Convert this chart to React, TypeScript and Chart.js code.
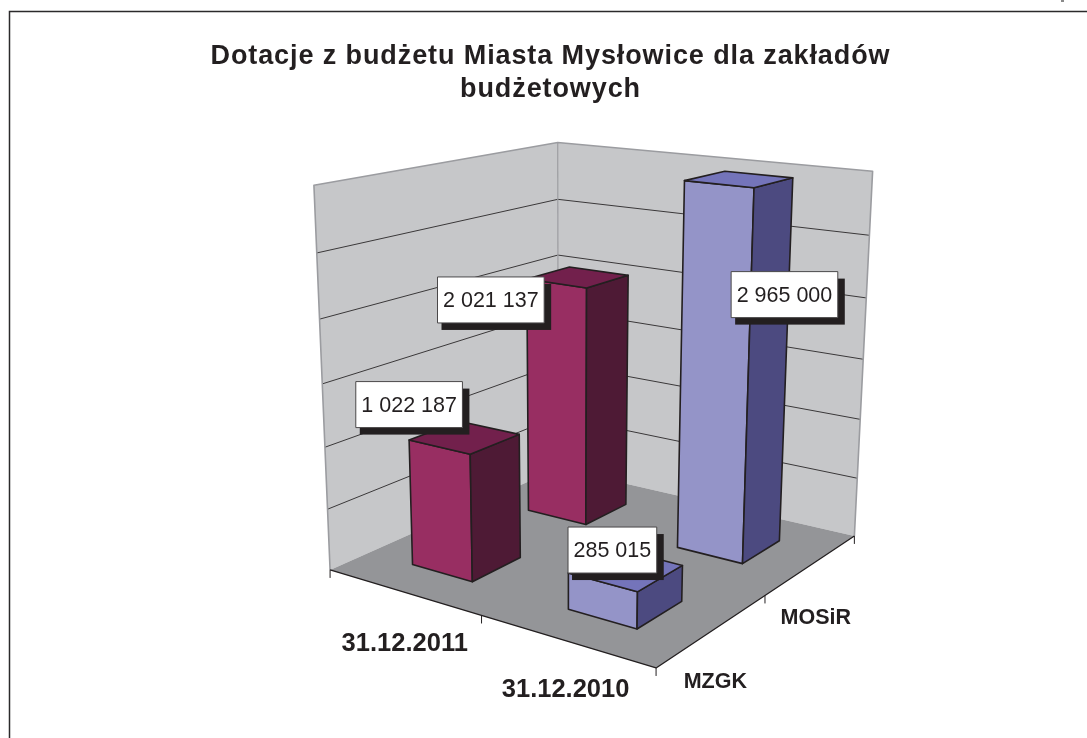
import React, { useEffect, useRef } from "react";
import { Chart, registerables } from "chart.js";

Chart.register(...registerables);

const titleLines = ["Dotacje z budżetu Miasta Mysłowice dla zakładów", "budżetowych"];
const dateLabels = ["31.12.2011", "31.12.2010"];
const unitLabels = ["MZGK", "MOSiR"];
const mzgkValues = [1022187, 285015];
const mosirValues = [2021137, 2965000];
const AXIS_MAX = 3000000;
const AXIS_STEP = 500000;
const BAR_FRACTION = 0.4;

// camera calibration: scene corners (u along dates, v along units, h up) and where they appear
const sceneCorners = [
  [0, 0, 0], [1, 0, 0], [1, 1, 0], [0, 1, 0], [0, 0, 1], [1, 1, 1], [0, 1, 1],
];
const imageCorners = [
  [331, 571], [656, 667], [855, 537], [557, 467], [313, 185], [872, 171], [559, 143],
];

const palette = [
  { front: "#982E62", side: "#4E1A35", top: "#72204C" },
  { front: "#9494C8", side: "#4C4A80", top: "#7474BA" },
];
const INK = "#231F20";
const WALL = "#C6C7C9";
const FLOOR = "#949598";
const WALL_EDGE = "#9B9CA0";
const FONT = "'Liberation Sans', Arial, sans-serif";

// offsets of each value box from its bar's front-left top corner: [dataset][category]
const labelOffsets = [
  [[0, -35.5], [44, -23]],
  [[-36, 21], [100, 114]],
];
const dateLabelOffsets = [[1.5, 52], [0, 49]];
const unitLabelOffsets = [[2, 52], [4, 54]];

function solveCamera(): number[] {
  const n = 11;
  const A = Array.from({ length: n }, () => new Array(n + 1).fill(0));
  const add = (row: number[], rhs: number) => {
    for (let i = 0; i < n; i++) {
      for (let j = 0; j < n; j++) A[i][j] += row[i] * row[j];
      A[i][n] += row[i] * rhs;
    }
  };
  sceneCorners.forEach(([X, Y, Z], k) => {
    const x = imageCorners[k][0] / 1000;
    const y = imageCorners[k][1] / 1000;
    add([X, Y, Z, 1, 0, 0, 0, 0, -x * X, -x * Y, -x * Z], x);
    add([0, 0, 0, 0, X, Y, Z, 1, -y * X, -y * Y, -y * Z], y);
  });
  for (let c = 0; c < n; c++) {
    let piv = c;
    for (let r = c + 1; r < n; r++) if (Math.abs(A[r][c]) > Math.abs(A[piv][c])) piv = r;
    [A[c], A[piv]] = [A[piv], A[c]];
    for (let r = 0; r < n; r++) {
      if (r === c) continue;
      const f = A[r][c] / A[c][c];
      for (let k = c; k <= n; k++) A[r][k] -= f * A[c][k];
    }
  }
  return A.map((row, i) => row[n] / row[i]);
}
const cam = solveCamera();
function project(u: number, v: number, h: number): [number, number] {
  const w = cam[8] * u + cam[9] * v + cam[10] * h + 1;
  return [
    (1000 * (cam[0] * u + cam[1] * v + cam[2] * h + cam[3])) / w,
    (1000 * (cam[4] * u + cam[5] * v + cam[6] * h + cam[7])) / w,
  ];
}

function poly(ctx: CanvasRenderingContext2D, pts: [number, number][], fill?: string, stroke?: string, lw = 1.5) {
  ctx.beginPath();
  pts.forEach((p, i) => (i ? ctx.lineTo(p[0], p[1]) : ctx.moveTo(p[0], p[1])));
  if (fill) {
    ctx.closePath();
    ctx.fillStyle = fill;
    ctx.fill();
  }
  if (stroke) {
    ctx.strokeStyle = stroke;
    ctx.lineWidth = lw;
    ctx.lineJoin = "round";
    ctx.stroke();
  }
}

const formatValue = (v: number) => String(v).replace(/\B(?=(\d{3})+(?!\d))/g, " ");

const scene3d = {
  id: "scene3d",
  beforeDraw(chart: any) {
    const ctx = chart.ctx;
    ctx.save();
    ctx.fillStyle = "#fff";
    ctx.fillRect(0, 0, chart.width, chart.height);
    ctx.strokeStyle = "#2b2a2b";
    ctx.lineWidth = 1.5;
    ctx.beginPath();
    ctx.moveTo(9.5, 738);
    ctx.lineTo(9.5, 11.5);
    ctx.lineTo(1087, 11.5);
    ctx.stroke();
    ctx.fillStyle = "#8a8a8a";
    ctx.fillRect(1061, 0, 3, 2);
    ctx.restore();
    ctx.letterSpacing = "0.9px";
  },
  afterDatasetsDraw(chart: any) {
    const ctx = chart.ctx;
    ctx.letterSpacing = "0px";
    const { x: xs, y: ys, depth: zs } = chart.scales;
    const U = (px: number) => (px - xs.left) / xs.width;
    const V = (px: number) => (px - zs.left) / zs.width;
    const H = (py: number) => (ys.bottom - py) / ys.height;

    // walls and floor
    ctx.save();
    poly(ctx, [project(0, 0, 0), project(0, 1, 0), project(0, 1, 1), project(0, 0, 1)], WALL);
    poly(ctx, [project(0, 1, 0), project(1, 1, 0), project(1, 1, 1), project(0, 1, 1)], WALL);
    poly(ctx, [project(0, 0, 0), project(1, 0, 0), project(1, 1, 0), project(0, 1, 0)], FLOOR);

    // gridlines from the value axis
    ys.ticks.forEach((t: any) => {
      const h = H(ys.getPixelForValue(t.value));
      if (t.value === 0 || t.value === AXIS_MAX) return;
      poly(ctx, [project(0, 0, h), project(0, 1, h), project(1, 1, h)], undefined, "#3a3839", 1);
    });
    poly(ctx, [project(0, 0, 0), project(0, 0, 1), project(0, 1, 1), project(1, 1, 1), project(1, 1, 0)], undefined, WALL_EDGE, 1.6);
    poly(ctx, [project(0, 1, 1), project(0, 1, 0)], undefined, WALL_EDGE, 1.2);

    // floor edges, ticks
    poly(ctx, [project(0, 0, 0), project(1, 0, 0), project(1, 1, 0)], undefined, INK, 1.3);
    const tick = (u: number, v: number) => {
      const p = project(u, v, 0);
      poly(ctx, [p, [p[0], p[1] + 8]], undefined, INK, 1);
    };
    const xStep = xs.width / dateLabels.length;
    const zStep = zs.width / unitLabels.length;
    dateLabels.forEach((_, i) => tick(U(xs.getPixelForValue(i) - xStep / 2), 0));
    tick(1, 0);
    unitLabels.forEach((_, i) => tick(1, V(zs.getPixelForValue(i) + zStep / 2)));

    // bars: far row first
    const boxes: any[] = [];
    [1, 0].forEach((ds) => {
      const meta = chart.getDatasetMeta(ds);
      const vc = V(zs.getPixelForValue(ds));
      const vh = (zStep * BAR_FRACTION) / 2 / zs.width;
      meta.data.forEach((bar: any, i: number) => {
        const p = bar.getProps(["x", "y", "base", "width"], true);
        const u0 = U(p.x - p.width / 2);
        const u1 = U(p.x + p.width / 2);
        const v0 = vc - vh;
        const v1 = vc + vh;
        const h0 = H(p.base);
        const h1 = H(p.y);
        const c = palette[i];
        poly(ctx, [project(u0, v0, h0), project(u1, v0, h0), project(u1, v0, h1), project(u0, v0, h1)], c.front, INK, 1.6);
        poly(ctx, [project(u1, v0, h0), project(u1, v1, h0), project(u1, v1, h1), project(u1, v0, h1)], c.side, INK, 1.6);
        poly(ctx, [project(u0, v0, h1), project(u1, v0, h1), project(u1, v1, h1), project(u0, v1, h1)], c.top, INK, 1.6);
        const a = project(u0, v0, h1);
        const off = labelOffsets[ds][i];
        boxes.push({ x: a[0] + off[0], y: a[1] + off[1], text: formatValue(chart.data.datasets[ds].data[i]) });
      });
    });

    // value boxes
    ctx.font = `21.5px ${FONT}`;
    ctx.textAlign = "center";
    ctx.textBaseline = "middle";
    boxes.forEach((b) => {
      const w = ctx.measureText(b.text).width + 11;
      const bh = 46;
      ctx.fillStyle = INK;
      ctx.fillRect(b.x - w / 2 + 4, b.y - bh / 2 + 7, w + 3, bh);
      ctx.fillStyle = "#fff";
      ctx.fillRect(b.x - w / 2, b.y - bh / 2, w, bh);
      ctx.strokeStyle = "#4a4849";
      ctx.lineWidth = 1;
      ctx.strokeRect(b.x - w / 2, b.y - bh / 2, w, bh);
      ctx.fillStyle = INK;
      ctx.fillText(b.text, b.x, b.y + 1);
    });

    // axis labels
    ctx.fillStyle = INK;
    ctx.font = `bold 25.5px ${FONT}`;
    dateLabels.forEach((t, i) => {
      const p = project(U(xs.getPixelForValue(i)), 0, 0);
      ctx.fillText(t, p[0] + dateLabelOffsets[i][0], p[1] + dateLabelOffsets[i][1]);
    });
    ctx.font = `bold 21.5px ${FONT}`;
    unitLabels.forEach((t, i) => {
      const p = project(1, V(zs.getPixelForValue(i)), 0);
      ctx.fillText(t, p[0] + unitLabelOffsets[i][0], p[1] + unitLabelOffsets[i][1]);
    });
    ctx.restore();
  },
};

export default function App() {
  const ref = useRef<HTMLCanvasElement>(null);
  useEffect(() => {
    const chart = new Chart(ref.current!, {
      type: "bar",
      data: {
        labels: dateLabels,
        datasets: [
          { label: unitLabels[0], data: mzgkValues, backgroundColor: "transparent", grouped: false },
          { label: unitLabels[1], data: mosirValues, backgroundColor: "transparent", grouped: false },
        ],
      },
      options: {
        animation: false,
        responsive: false,
        devicePixelRatio: 1,
        events: [],
        layout: { padding: { left: 14, top: 40, right: 0, bottom: 0 } },
        datasets: { bar: { categoryPercentage: 1, barPercentage: BAR_FRACTION } },
        plugins: {
          legend: { display: false },
          tooltip: { enabled: false },
          title: {
            display: true,
            text: titleLines,
            color: INK,
            padding: 0,
            font: { family: FONT, size: 27, weight: "bold", lineHeight: 1.22 },
          },
        },
        scales: {
          x: { type: "category", display: false },
          y: { type: "linear", display: false, min: 0, max: AXIS_MAX, ticks: { stepSize: AXIS_STEP } },
          depth: { type: "category", axis: "x", position: "bottom", display: false, labels: unitLabels, offset: true },
        },
      } as any,
      plugins: [scene3d],
    } as any);
    return () => chart.destroy();
  }, []);
  return (
    <div style={{ position: "fixed", left: 0, top: 0, width: 1087, height: 738 }}>
      <canvas ref={ref} width={1087} height={738} style={{ display: "block" }} />
    </div>
  );
}
